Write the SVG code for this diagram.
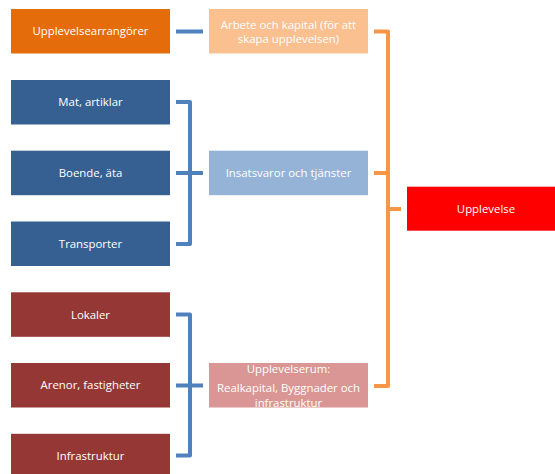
<svg xmlns="http://www.w3.org/2000/svg" width="555" height="474" viewBox="0 0 555 474">
  <style>
    .lbl { font-family: "Open Sans", "Noto Sans", sans-serif; font-size: 11.4px; fill: #ffffff; text-anchor: middle; }
    .blue { fill: none; stroke: #4F81BD; stroke-width: 4; stroke-linejoin: round; }
    .orange { fill: none; stroke: #F79646; stroke-width: 4; stroke-linejoin: round; }
  </style>
  <rect width="555" height="474" fill="#ffffff"/>

  <!-- connectors -->
  <g id="connectors">
    <line class="blue" x1="176" y1="31.5" x2="203" y2="31.5"/>
    <path class="blue" d="M176 102 H190 V244 H176"/>
    <path class="blue" d="M176 173 H203"/>
    <path class="blue" d="M176 314.5 H190 V455.5 H176"/>
    <path class="blue" d="M176 385.5 H203"/>
    <path class="orange" d="M374 31.5 H388 V386 H374"/>
    <path class="orange" d="M374 173 H388"/>
    <path class="orange" d="M388 209 H401"/>
  </g>

  <!-- source nodes -->
  <g id="upplevelsearrangorer">
    <rect x="11" y="9" width="159" height="44.5" fill="#E46C0A"/>
    <text class="lbl" x="90.5" y="35.3">Upplevelsearrangörer</text>
  </g>
  <g id="mat">
    <rect x="11" y="80" width="159" height="44.5" fill="#376092"/>
    <text class="lbl" x="90.5" y="106.3">Mat, artiklar</text>
  </g>
  <g id="boende">
    <rect x="11" y="150.7" width="159" height="44.5" fill="#376092"/>
    <text class="lbl" x="90.5" y="177">Boende, äta</text>
  </g>
  <g id="transporter">
    <rect x="11" y="221.5" width="159" height="44.5" fill="#376092"/>
    <text class="lbl" x="90.5" y="247.8">Transporter</text>
  </g>
  <g id="lokaler">
    <rect x="11" y="292.3" width="159" height="44.5" fill="#953735"/>
    <text class="lbl" x="90.5" y="318.6">Lokaler</text>
  </g>
  <g id="arenor">
    <rect x="11" y="363" width="159" height="44.5" fill="#953735"/>
    <text class="lbl" x="90.5" y="389.3">Arenor, fastigheter</text>
  </g>
  <g id="infrastruktur">
    <rect x="11" y="433.8" width="159" height="44.5" fill="#953735"/>
    <text class="lbl" x="90.5" y="460.1">Infrastruktur</text>
  </g>

  <!-- intermediate nodes -->
  <g id="arbete">
    <rect x="209" y="9" width="159" height="44.5" fill="#FAC090"/>
    <text class="lbl" x="288.5" y="28.5">Arbete och kapital (för att</text>
    <text class="lbl" x="288.5" y="43">skapa upplevelsen)</text>
  </g>
  <g id="insatsvaror">
    <rect x="209" y="150.7" width="159" height="44.5" fill="#95B3D7"/>
    <text class="lbl" x="288.5" y="177">Insatsvaror och tjänster</text>
  </g>
  <g id="upplevelserum">
    <rect x="209" y="363" width="159" height="44.5" fill="#D99694"/>
    <text class="lbl" x="288.5" y="372.5">Upplevelserum:</text>
    <text class="lbl" x="288.5" y="392">Realkapital, Byggnader och</text>
    <text class="lbl" x="288.5" y="407">infrastruktur</text>
  </g>

  <!-- result node -->
  <g id="upplevelse">
    <rect x="407" y="186.7" width="158" height="44" fill="#FF0000"/>
    <text class="lbl" x="486" y="213">Upplevelse</text>
  </g>
</svg>
